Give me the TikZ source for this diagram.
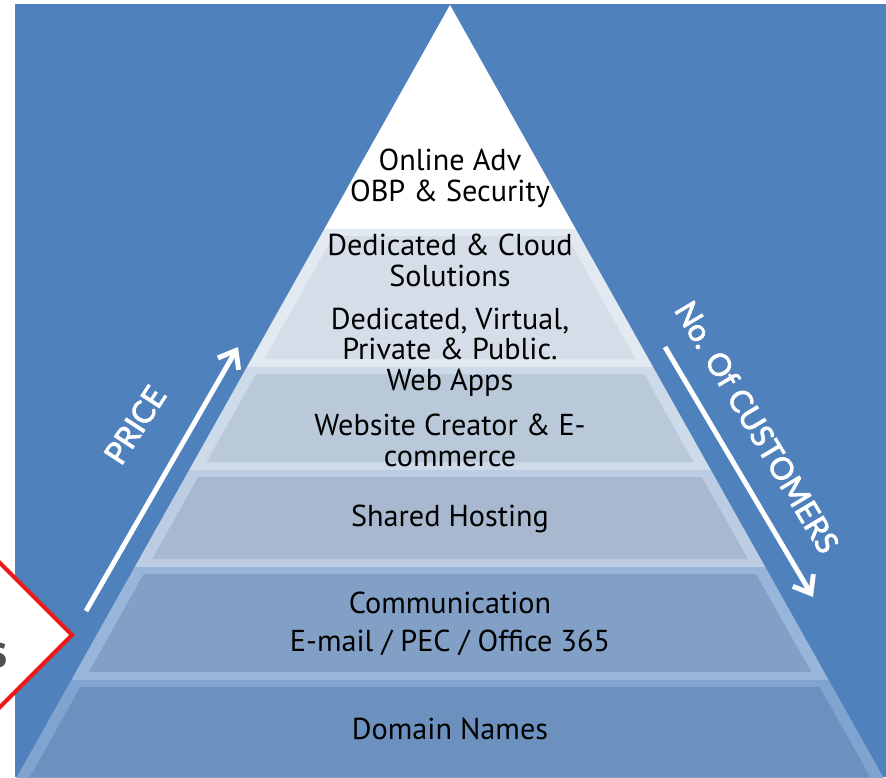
\documentclass[tikz,border=0pt]{standalone}
\usepackage{fontspec}
\setmainfont{PT Sans}
\newfontfamily\axisfont[FakeBold=2.5]{Lato}
\usetikzlibrary{arrows.meta, positioning}
\definecolor{bgblue}{RGB}{79,129,189}
\definecolor{tagred}{RGB}{235,25,25}
\definecolor{tagtext}{RGB}{80,80,80}
\definecolor{tierAedge}{RGB}{226,233,241}
\definecolor{tierAface}{RGB}{213,222,232}
\definecolor{tierBedge}{RGB}{205,218,233}
\definecolor{tierBface}{RGB}{185,201,217}
\definecolor{tierCedge}{RGB}{188,205,227}
\definecolor{tierCface}{RGB}{168,185,207}
\definecolor{tierDedge}{RGB}{152,181,218}
\definecolor{tierDface}{RGB}{130,159,197}
\definecolor{tierEedge}{RGB}{128,163,208}
\definecolor{tierEface}{RGB}{108,145,190}

\begin{document}
\begin{tikzpicture}[
  x=0.025cm, y=-0.025cm,
  every node/.style={font=\fontsize{21.5}{22}\selectfont, align=center},
  axislabel/.style={font=\axisfont\fontsize{22}{24}\selectfont, text=white},
  axisarrow/.style={draw=white, line width=3.5pt,
                    -{Straight Barb[length=11pt, width=17pt]}},
]
\useasboundingbox (0,0) rectangle (886,777);
\clip (0,0) rectangle (886,777);
\fill[bgblue] (15,4) rectangle (886,777);

% white tip of the pyramid
\fill[white] (450,5) -- ({450-0.561*224},229) -- ({450+0.561*224},229) -- cycle;

% tiers: light frame first, then the inset face
\foreach \ya/\yb/\edge/\face in {229/367/tierAedge/tierAface,
                                 367/470/tierBedge/tierBface,
                                 470/567/tierCedge/tierCface,
                                 567/680/tierDedge/tierDface,
                                 680/785/tierEedge/tierEface}{
  \fill[\edge] ({450-0.561*(\ya-5)},\ya) -- ({450+0.561*(\ya-5)},\ya)
    -- ({450+0.561*(\yb-5)},\yb) -- ({450-0.561*(\yb-5)},\yb) -- cycle;
  \fill[\face] ({463-0.561*(\ya+2)},\ya+7) -- ({437+0.561*(\ya+2)},\ya+7)
    -- ({437+0.561*(\yb-13)},\yb-8) -- ({463-0.561*(\yb-13)},\yb-8) -- cycle;
}

% tier texts
\node (adv)      at (450,178) {Online Adv\\OBP \& Security};
\node (cloud)    at (450,260) {Dedicated \& Cloud\\Solutions};
\node (virtual)  at (450,334) {Dedicated, Virtual,\\Private \& Public.};
\node (webapps)  at (450,383) {Web Apps};
\node (creator)  at (450,440) {Website Creator \& E-\\commerce};
\node (shared)   at (450,519) {Shared Hosting};
\node (comm)     at (450,603) {Communication};
\node (mail)     at (450,643) {E-mail~/ PEC~/ Office 365};
\node (domain)   at (450,729) {Domain Names};

% price goes up, customers go down
\coordinate (priceTail) at (86,611);
\coordinate (priceTip)  at (238,347);
\draw[axisarrow] (priceTail) -- (priceTip);
\node[axislabel, rotate=57] (price) at (135,425) {PRICE};

\coordinate (custTail) at (665,347);
\coordinate (custTip)  at (813,597);
\draw[axisarrow] (custTail) -- (custTip);
\node[axislabel, rotate=-59] (customers) at (757,427) {No. Of CUSTOMERS};

% red tag at the left border
\fill[black!40, opacity=0.5] (68,641) -- (-64,509) -- (-196,641) -- (-64,773) -- cycle;
\filldraw[fill=white, draw=tagred, line width=3pt]
  (72,635) -- (-60,503) -- (-192,635) -- (-60,767) -- cycle;
\node[font=\bfseries\fontsize{34}{40}\selectfont, text=tagtext, anchor=base east,
      inner sep=0pt] (tag) at (8,667) {s};
\end{tikzpicture}
\end{document}
